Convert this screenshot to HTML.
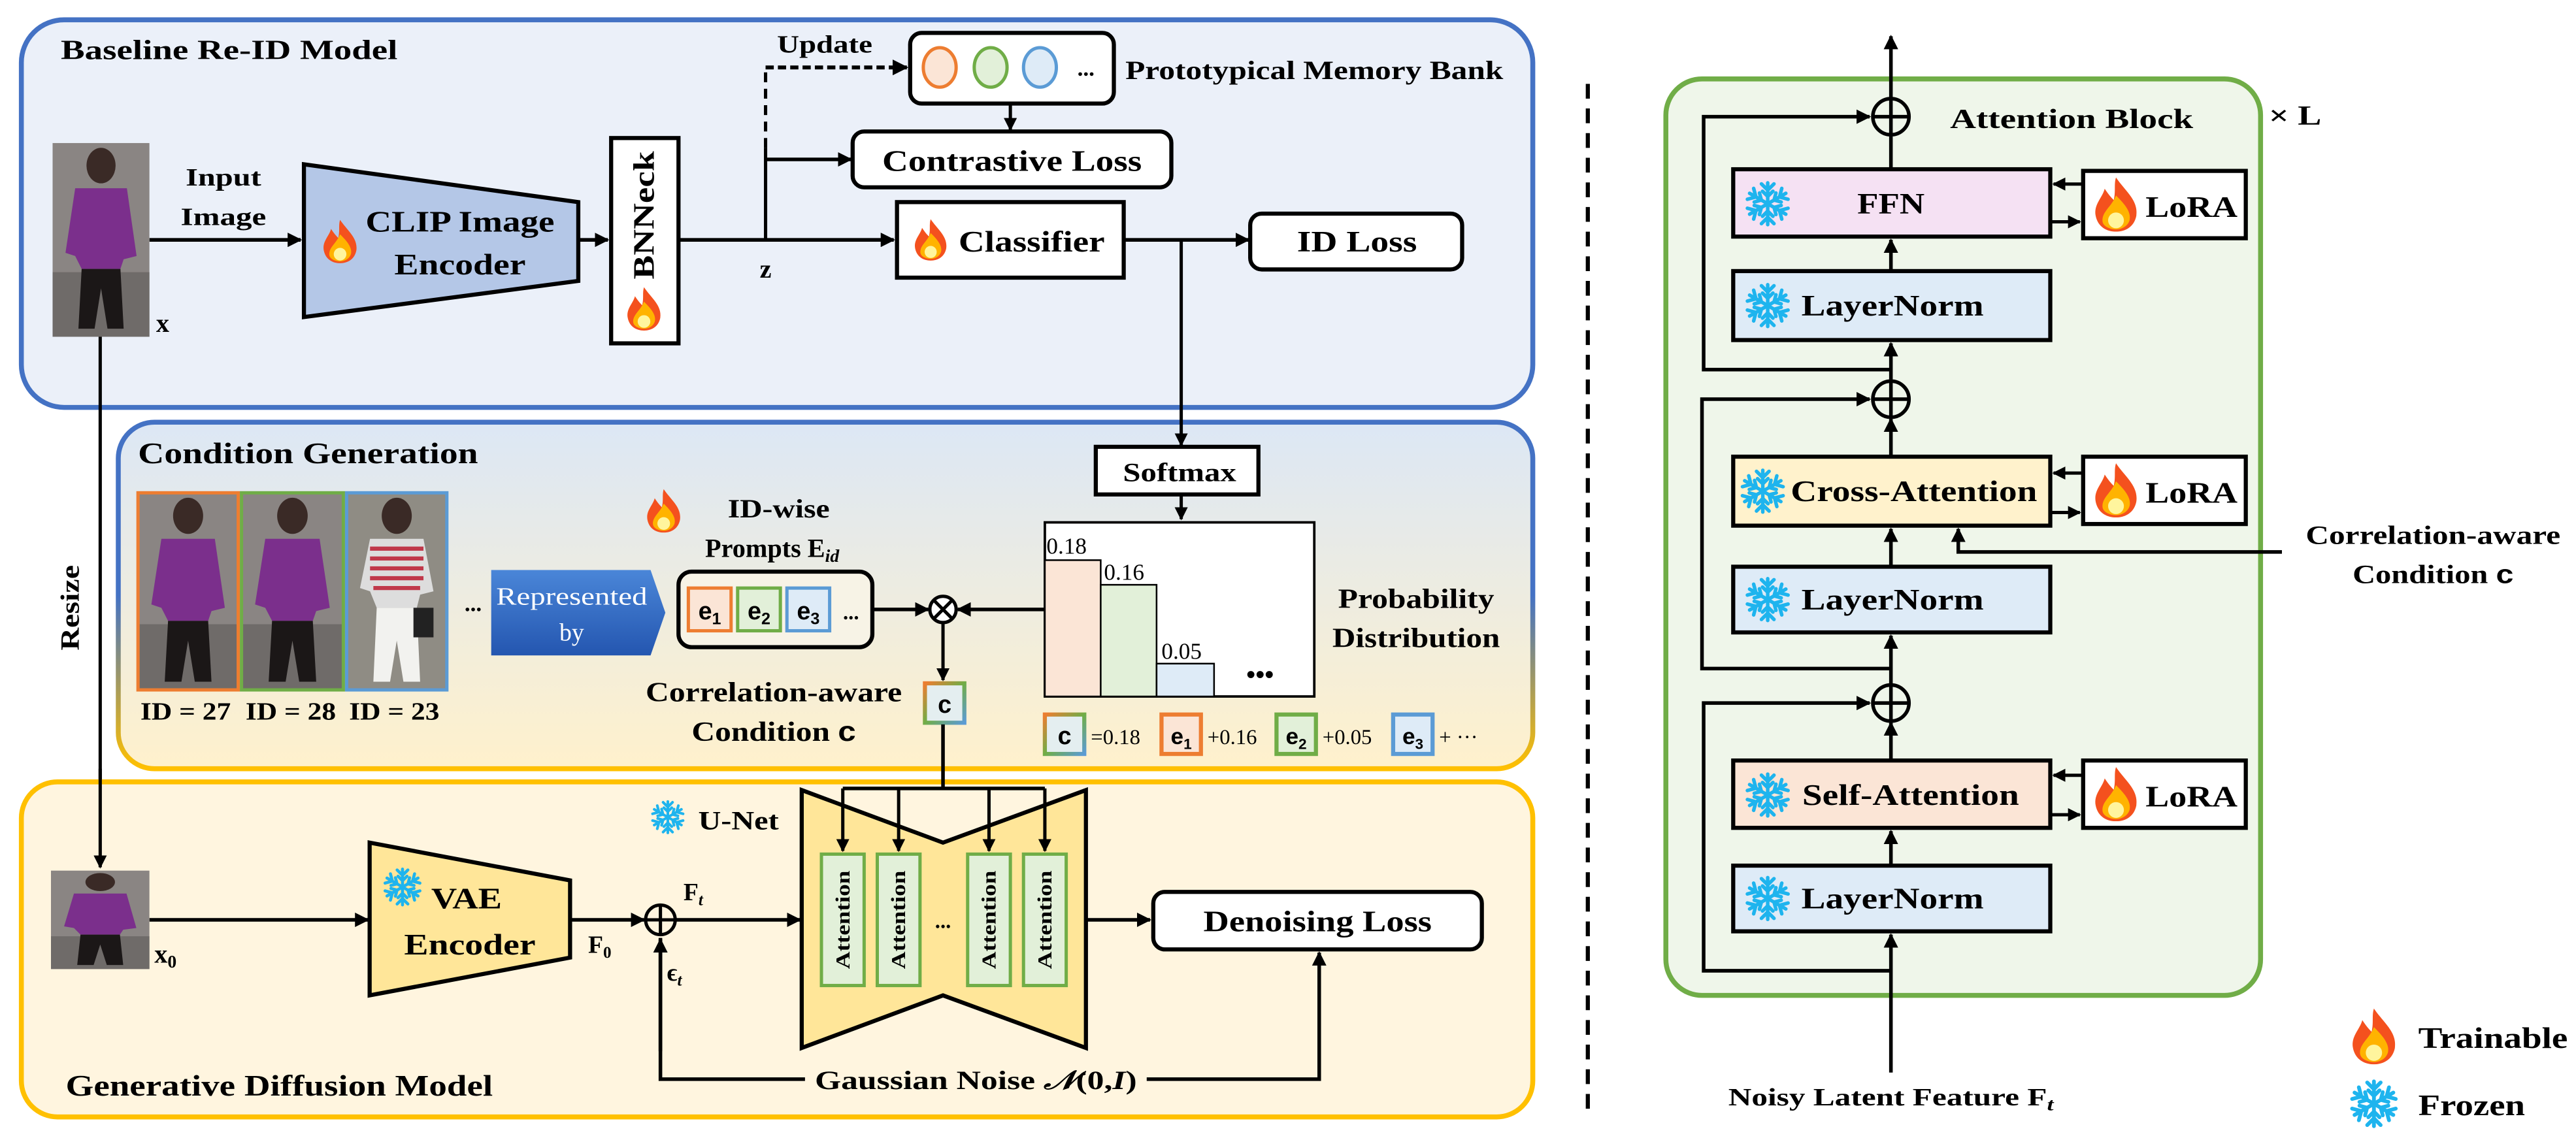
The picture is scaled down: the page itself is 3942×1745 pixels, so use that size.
<!DOCTYPE html>
<html><head><meta charset="utf-8"><style>
html,body{margin:0;padding:0;background:#fff}
svg{display:block}
text{font-family:"Liberation Serif","DejaVu Serif",serif;font-weight:bold;fill:#000}
</style></head><body>
<svg width="3942" height="1745" viewBox="0 0 1568 694" xmlns="http://www.w3.org/2000/svg">
<defs>
<marker id="ah" viewBox="0 0 10 10" refX="9" refY="5" markerWidth="4" markerHeight="4" orient="auto-start-reverse" markerUnits="strokeWidth"><path d="M0,0 L10,5 L0,10 z" fill="#000"/></marker>
<symbol id="fire" viewBox="-10 -12 20 24">
<path d="M0,-12 C4,-6 10,-2 9,5 C8,10 4,12 0,12 C-4,12 -8,10 -9,5 C-10,0 -6,-3 -5,-7 C-3,-4 -2,-3 -1,-2 C0,-6 -1,-9 0,-12Z" fill="#F4511E"/>
<path d="M0,-4 C3,-1 7,3 6,7 C5,10 2,11 0,11 C-2,11 -6,10 -6,7 C-6,3 -2,1 0,-4Z" fill="#FFB300"/>
<ellipse cx="0" cy="7" rx="3.5" ry="3.5" fill="#FFF59D"/>
</symbol>
<g id="arm"><path d="M0,0 L0,-10 M0,-6.5 L-3,-9.5 M0,-6.5 L3,-9.5 M0,-3.5 L-2.5,-6 M0,-3.5 L2.5,-6"/></g>
<symbol id="snow" viewBox="-11 -11 22 22">
<g stroke="#1EB4EE" stroke-width="1.7" stroke-linecap="round" fill="none">
<use href="#arm"/><use href="#arm" transform="rotate(60)"/><use href="#arm" transform="rotate(120)"/>
<use href="#arm" transform="rotate(180)"/><use href="#arm" transform="rotate(240)"/><use href="#arm" transform="rotate(300)"/>
</g>
</symbol>
<linearGradient id="cgS" x1="0" y1="0" x2="0" y2="1"><stop offset="0" stop-color="#4472C4"/><stop offset="0.5" stop-color="#4472C4"/><stop offset="1" stop-color="#FFC000"/></linearGradient>
<linearGradient id="cgF" x1="0" y1="0" x2="0" y2="1"><stop offset="0" stop-color="#DCE7F5"/><stop offset="1" stop-color="#FFF1CC"/></linearGradient>
<linearGradient id="repG" x1="0" y1="0" x2="0" y2="1"><stop offset="0" stop-color="#4A86D8"/><stop offset="1" stop-color="#2456B0"/></linearGradient>
<linearGradient id="cbox" x1="0" y1="0" x2="1" y2="1"><stop offset="0" stop-color="#ED7D31"/><stop offset="0.5" stop-color="#70AD47"/><stop offset="1" stop-color="#5B9BD5"/></linearGradient>
<symbol id="person" viewBox="0 0 60 120" preserveAspectRatio="none">
<rect width="60" height="120" fill="#8a8583"/>
<rect x="0" y="80" width="60" height="40" fill="#6f6b69"/>
<ellipse cx="30" cy="14" rx="9" ry="11" fill="#3a2a26"/>
<path d="M14,28 L46,28 L52,70 L44,72 L42,78 L18,78 L14,70 L8,68Z" fill="#7b2f8c"/>
<path d="M18,78 L42,78 L44,115 L34,115 L30,90 L26,115 L16,115Z" fill="#1b1717"/>
</symbol>
<symbol id="person2" viewBox="0 0 60 120" preserveAspectRatio="none">
<rect width="60" height="120" fill="#8f8c84"/>
<ellipse cx="30" cy="14" rx="9" ry="11" fill="#3a2a26"/>
<path d="M14,28 L46,28 L52,60 L44,62 L42,70 L18,70 L14,60 L8,58Z" fill="#ddd" />
<path d="M14,34 L46,34 M14,40 L46,40 M14,46 L46,46 M14,52 L46,52 M16,58 L44,58" stroke="#c0384a" stroke-width="2.5"/>
<path d="M18,70 L42,70 L44,115 L34,115 L30,90 L26,115 L16,115Z" fill="#f2f2ef"/>
<rect x="40" y="70" width="12" height="18" fill="#222"/>
</symbol>
</defs>

<!-- ===== Box 1: Baseline ===== -->
<rect x="13" y="12" width="920" height="236" rx="26" fill="#EBF0F9" stroke="#4472C4" stroke-width="3"/>
<text x="37" y="36" font-size="17" textLength="205" lengthAdjust="spacingAndGlyphs">Baseline Re-ID Model</text>
<use href="#person" x="32" y="87" width="59" height="118"/>
<text x="95" y="202" font-size="16">x</text>
<text x="136" y="113" font-size="15" text-anchor="middle" textLength="46" lengthAdjust="spacingAndGlyphs">Input</text>
<text x="136" y="137" font-size="15" text-anchor="middle" textLength="52" lengthAdjust="spacingAndGlyphs">Image</text>
<line x1="91" y1="146" x2="183" y2="146" stroke="#000" stroke-width="2.2" marker-end="url(#ah)"/>
<polygon points="185,100 352,123 352,171 185,193" fill="#B4C7E7" stroke="#000" stroke-width="2.5"/>
<use href="#fire" x="196" y="133" width="22" height="28"/>
<text x="280" y="141" font-size="18" text-anchor="middle" textLength="115" lengthAdjust="spacingAndGlyphs">CLIP Image</text>
<text x="280" y="167" font-size="18" text-anchor="middle" textLength="80" lengthAdjust="spacingAndGlyphs">Encoder</text>
<line x1="352" y1="146" x2="370" y2="146" stroke="#000" stroke-width="2.2" marker-end="url(#ah)"/>
<rect x="372" y="84" width="41" height="125" fill="#fff" stroke="#000" stroke-width="2.5"/>
<text transform="translate(398,131) rotate(-90)" font-size="18" text-anchor="middle" textLength="78" lengthAdjust="spacingAndGlyphs">BNNeck</text>
<use href="#fire" x="381" y="174" width="22" height="28"/>
<line x1="413" y1="146" x2="544" y2="146" stroke="#000" stroke-width="2.2" marker-end="url(#ah)"/>
<text x="466" y="169" font-size="16" text-anchor="middle">z</text>
<line x1="466" y1="146" x2="466" y2="90" stroke="#000" stroke-width="2"/>
<line x1="466" y1="90" x2="466" y2="42" stroke="#000" stroke-width="2" stroke-dasharray="6,4"/>
<line x1="466" y1="41" x2="552" y2="41" stroke="#000" stroke-width="2.4" stroke-dasharray="5,2.5" marker-end="url(#ah)"/>
<text x="502" y="32" font-size="15" text-anchor="middle" textLength="58" lengthAdjust="spacingAndGlyphs">Update</text>
<rect x="554" y="20" width="124" height="43" rx="7" fill="#fff" stroke="#000" stroke-width="2.5"/>
<ellipse cx="572" cy="41" rx="10" ry="12" fill="#FBE5D6" stroke="#ED7D31" stroke-width="2"/>
<ellipse cx="603" cy="41" rx="10" ry="12" fill="#E2F0D9" stroke="#70AD47" stroke-width="2"/>
<ellipse cx="633" cy="41" rx="10" ry="12" fill="#DEEBF7" stroke="#5B9BD5" stroke-width="2"/>
<text x="661" y="46" font-size="14" text-anchor="middle">...</text>
<text x="685" y="48" font-size="16" textLength="230" lengthAdjust="spacingAndGlyphs">Prototypical Memory Bank</text>
<line x1="615" y1="63" x2="615" y2="79" stroke="#000" stroke-width="2" marker-end="url(#ah)"/>
<line x1="466" y1="97" x2="518" y2="97" stroke="#000" stroke-width="2.2" marker-end="url(#ah)"/>
<rect x="519" y="80" width="194" height="34" rx="7" fill="#fff" stroke="#000" stroke-width="2.5"/>
<text x="616" y="104" font-size="18" text-anchor="middle" textLength="158" lengthAdjust="spacingAndGlyphs">Contrastive Loss</text>
<rect x="546" y="123" width="138" height="46" fill="#fff" stroke="#000" stroke-width="2.5"/>
<use href="#fire" x="556" y="132" width="21" height="28"/>
<text x="628" y="153" font-size="18" text-anchor="middle" textLength="89" lengthAdjust="spacingAndGlyphs">Classifier</text>
<line x1="684" y1="146" x2="760" y2="146" stroke="#000" stroke-width="2.2" marker-end="url(#ah)"/>
<rect x="761" y="130" width="129" height="34" rx="7" fill="#fff" stroke="#000" stroke-width="2.5"/>
<text x="826" y="153" font-size="18" text-anchor="middle" textLength="73" lengthAdjust="spacingAndGlyphs">ID Loss</text>

<!-- ===== Box 2: Condition Generation ===== -->
<rect x="72" y="257" width="861" height="211" rx="22" fill="url(#cgF)" stroke="url(#cgS)" stroke-width="3"/>
<line x1="719" y1="146" x2="719" y2="271" stroke="#000" stroke-width="2" marker-end="url(#ah)"/>
<line x1="61" y1="205" x2="61" y2="528" stroke="#000" stroke-width="2" marker-end="url(#ah)"/>
<text transform="translate(48,370) rotate(-90)" font-size="16" text-anchor="middle" textLength="52" lengthAdjust="spacingAndGlyphs">Resize</text>
<text x="84" y="282" font-size="18" textLength="207" lengthAdjust="spacingAndGlyphs">Condition Generation</text>
<use href="#person" x="84" y="300" width="61" height="120"/>
<rect x="84" y="300" width="61" height="120" fill="none" stroke="#ED7D31" stroke-width="2"/>
<use href="#person" x="147" y="300" width="62" height="120"/>
<rect x="147" y="300" width="62" height="120" fill="none" stroke="#70AD47" stroke-width="2"/>
<use href="#person2" x="211" y="300" width="61" height="120"/>
<rect x="211" y="300" width="61" height="120" fill="none" stroke="#5B9BD5" stroke-width="2"/>
<text x="113" y="438" font-size="15" text-anchor="middle" textLength="55" lengthAdjust="spacingAndGlyphs">ID = 27</text>
<text x="177" y="438" font-size="15" text-anchor="middle" textLength="55" lengthAdjust="spacingAndGlyphs">ID = 28</text>
<text x="240" y="438" font-size="15" text-anchor="middle" textLength="55" lengthAdjust="spacingAndGlyphs">ID = 23</text>
<text x="288" y="372" font-size="14" text-anchor="middle">...</text>
<polygon points="299,347 396,347 405,373 396,399 299,399" fill="url(#repG)"/>
<text x="348" y="368" font-size="15" text-anchor="middle" textLength="92" lengthAdjust="spacingAndGlyphs" style="fill:#fff;font-weight:normal">Represented</text>
<text x="348" y="390" font-size="15" text-anchor="middle" style="fill:#fff;font-weight:normal">by</text>
<use href="#fire" x="393" y="296" width="22" height="30"/>
<text x="474" y="315" font-size="16" text-anchor="middle" textLength="62" lengthAdjust="spacingAndGlyphs">ID-wise</text>
<text x="470" y="339" font-size="16" text-anchor="middle">Prompts E<tspan font-size="11" font-style="italic" dy="3">id</tspan></text>
<rect x="413" y="348" width="118" height="46" rx="8" fill="#F7F3E6" stroke="#000" stroke-width="2.5"/>
<rect x="419" y="358" width="26" height="26" fill="#FBE5D6" stroke="#ED7D31" stroke-width="2"/>
<rect x="449" y="358" width="26" height="26" fill="#E2F0D9" stroke="#70AD47" stroke-width="2"/>
<rect x="479" y="358" width="26" height="26" fill="#DEEBF7" stroke="#5B9BD5" stroke-width="2"/>
<text x="432" y="377" font-size="15" text-anchor="middle" style="font-family:'Liberation Sans',sans-serif">e<tspan font-size="10" dy="3">1</tspan></text>
<text x="462" y="377" font-size="15" text-anchor="middle" style="font-family:'Liberation Sans',sans-serif">e<tspan font-size="10" dy="3">2</tspan></text>
<text x="492" y="377" font-size="15" text-anchor="middle" style="font-family:'Liberation Sans',sans-serif">e<tspan font-size="10" dy="3">3</tspan></text>
<text x="518" y="377" font-size="13" text-anchor="middle">...</text>
<line x1="531" y1="371" x2="565" y2="371" stroke="#000" stroke-width="2.2" marker-end="url(#ah)"/>
<circle cx="574" cy="371" r="8" fill="#fff" stroke="#000" stroke-width="2"/>
<line x1="568.5" y1="365.5" x2="579.5" y2="376.5" stroke="#000" stroke-width="2"/>
<line x1="579.5" y1="365.5" x2="568.5" y2="376.5" stroke="#000" stroke-width="2"/>
<line x1="636" y1="371" x2="583" y2="371" stroke="#000" stroke-width="2.2" marker-end="url(#ah)"/>
<line x1="574" y1="379" x2="574" y2="414" stroke="#000" stroke-width="2" marker-end="url(#ah)"/>
<rect x="563" y="416" width="24" height="24" fill="#E4EEF0" stroke="url(#cbox)" stroke-width="2.5"/>
<text x="575" y="434" font-size="15" text-anchor="middle" style="font-family:'Liberation Sans',sans-serif">c</text>
<text x="471" y="427" font-size="17" text-anchor="middle" textLength="156" lengthAdjust="spacingAndGlyphs">Correlation-aware</text>
<text x="471" y="451" font-size="17" text-anchor="middle" textLength="100" lengthAdjust="spacingAndGlyphs">Condition <tspan style="font-family:'Liberation Sans',sans-serif">c</tspan></text>
<line x1="719" y1="301" x2="719" y2="316" stroke="#000" stroke-width="2" marker-end="url(#ah)"/>
<rect x="667" y="272" width="99" height="29" fill="#fff" stroke="#000" stroke-width="2.5"/>
<text x="718" y="293" font-size="16" text-anchor="middle" textLength="69" lengthAdjust="spacingAndGlyphs">Softmax</text>
<rect x="636" y="318" width="164" height="106" fill="#fff" stroke="#000" stroke-width="1.5"/>
<rect x="636" y="341" width="34" height="83" fill="#FBE5D6" stroke="#000" stroke-width="1"/>
<rect x="670" y="356" width="34" height="68" fill="#E2F0D9" stroke="#000" stroke-width="1"/>
<rect x="704" y="404" width="35" height="20" fill="#DEEBF7" stroke="#000" stroke-width="1"/>
<text x="637" y="337" font-size="14" style="font-weight:normal">0.18</text>
<text x="672" y="353" font-size="14" style="font-weight:normal">0.16</text>
<text x="707" y="401" font-size="14" style="font-weight:normal">0.05</text>
<text x="767" y="416" font-size="16" text-anchor="middle">•••</text>
<text x="862" y="370" font-size="17" text-anchor="middle" textLength="95" lengthAdjust="spacingAndGlyphs">Probability</text>
<text x="862" y="394" font-size="17" text-anchor="middle" textLength="102" lengthAdjust="spacingAndGlyphs">Distribution</text>
<!-- equation -->
<rect x="636" y="435" width="24" height="24" fill="#E4EEF0" stroke="url(#cbox)" stroke-width="2.5"/>
<text x="648" y="453" font-size="15" text-anchor="middle" style="font-family:'Liberation Sans',sans-serif">c</text>
<text x="664" y="453" font-size="13" style="font-weight:normal">=0.18</text>
<rect x="707" y="435" width="24" height="24" fill="#FBE5D6" stroke="#ED7D31" stroke-width="2.5"/>
<text x="719" y="453" font-size="14" text-anchor="middle" style="font-family:'Liberation Sans',sans-serif">e<tspan font-size="9" dy="3">1</tspan></text>
<text x="735" y="453" font-size="13" style="font-weight:normal">+0.16</text>
<rect x="777" y="435" width="24" height="24" fill="#E2F0D9" stroke="#70AD47" stroke-width="2.5"/>
<text x="789" y="453" font-size="14" text-anchor="middle" style="font-family:'Liberation Sans',sans-serif">e<tspan font-size="9" dy="3">2</tspan></text>
<text x="805" y="453" font-size="13" style="font-weight:normal">+0.05</text>
<rect x="848" y="435" width="24" height="24" fill="#DEEBF7" stroke="#5B9BD5" stroke-width="2.5"/>
<text x="860" y="453" font-size="14" text-anchor="middle" style="font-family:'Liberation Sans',sans-serif">e<tspan font-size="9" dy="3">3</tspan></text>
<text x="876" y="453" font-size="13" style="font-weight:normal">+ ···</text>

<!-- ===== Box 3: Diffusion ===== -->
<rect x="13" y="476" width="920" height="204" rx="22" fill="#FFF5DF" stroke="#FFC000" stroke-width="3"/>
<line x1="61" y1="468" x2="61" y2="528" stroke="#000" stroke-width="2" marker-end="url(#ah)"/>
<use href="#person" x="31" y="530" width="60" height="60"/>
<text x="94" y="586" font-size="16">x<tspan font-size="11" dy="3">0</tspan></text>
<line x1="91" y1="560" x2="224" y2="560" stroke="#000" stroke-width="2.2" marker-end="url(#ah)"/>
<polygon points="225,513 347,536 347,583 225,606" fill="#FFE699" stroke="#000" stroke-width="2.5"/>
<use href="#snow" x="233" y="528" width="24" height="24"/>
<text x="284" y="553" font-size="18" text-anchor="middle" textLength="43" lengthAdjust="spacingAndGlyphs">VAE</text>
<text x="286" y="581" font-size="18" text-anchor="middle" textLength="80" lengthAdjust="spacingAndGlyphs">Encoder</text>
<line x1="347" y1="560" x2="392" y2="560" stroke="#000" stroke-width="2.2" marker-end="url(#ah)"/>
<text x="358" y="580" font-size="15">F<tspan font-size="10" dy="3">0</tspan></text>
<circle cx="402" cy="560" r="9" fill="none" stroke="#000" stroke-width="2"/>
<line x1="393" y1="560" x2="411" y2="560" stroke="#000" stroke-width="2"/>
<line x1="402" y1="551" x2="402" y2="569" stroke="#000" stroke-width="2"/>
<text x="416" y="548" font-size="15">F<tspan font-size="10" font-style="italic" dy="3">t</tspan></text>
<text x="406" y="597" font-size="15">ϵ<tspan font-size="10" font-style="italic" dy="3">t</tspan></text>
<line x1="411" y1="560" x2="487" y2="560" stroke="#000" stroke-width="2.2" marker-end="url(#ah)"/>
<polyline points="402,571 402,657 490,657" fill="none" stroke="#000" stroke-width="2.2"/>
<line x1="402" y1="640" x2="402" y2="572" stroke="#000" stroke-width="2.2" marker-end="url(#ah)"/>
<text x="594" y="663" font-size="16" text-anchor="middle" textLength="196" lengthAdjust="spacingAndGlyphs">Gaussian Noise <tspan font-style="italic">𝒩</tspan>(0,<tspan font-style="italic">I</tspan>)</text>
<polyline points="698,657 803,657 803,580" fill="none" stroke="#000" stroke-width="2.2" marker-end="url(#ah)"/>
<polygon points="488,481 574,513 661,481 661,638 574,606 488,638" fill="#FFE699" stroke="#000" stroke-width="2.5"/>
<use href="#snow" x="396" y="487" width="21" height="21"/>
<text x="425" y="505" font-size="16" textLength="49" lengthAdjust="spacingAndGlyphs">U-Net</text>
<polyline points="574,441 574,480" fill="none" stroke="#000" stroke-width="2.2"/>
<line x1="513" y1="480" x2="636" y2="480" stroke="#000" stroke-width="2.2"/>
<line x1="513" y1="480" x2="513" y2="518" stroke="#000" stroke-width="2" marker-end="url(#ah)"/>
<line x1="547" y1="480" x2="547" y2="518" stroke="#000" stroke-width="2" marker-end="url(#ah)"/>
<line x1="602" y1="480" x2="602" y2="518" stroke="#000" stroke-width="2" marker-end="url(#ah)"/>
<line x1="636" y1="480" x2="636" y2="518" stroke="#000" stroke-width="2" marker-end="url(#ah)"/>
<rect x="500" y="520" width="26" height="80" fill="#E2F0D9" stroke="#70AD47" stroke-width="2"/>
<rect x="534" y="520" width="26" height="80" fill="#E2F0D9" stroke="#70AD47" stroke-width="2"/>
<rect x="589" y="520" width="26" height="80" fill="#E2F0D9" stroke="#70AD47" stroke-width="2"/>
<rect x="623" y="520" width="26" height="80" fill="#E2F0D9" stroke="#70AD47" stroke-width="2"/>
<text transform="translate(517,560) rotate(-90)" font-size="12" text-anchor="middle" textLength="60" lengthAdjust="spacingAndGlyphs">Attention</text>
<text transform="translate(551,560) rotate(-90)" font-size="12" text-anchor="middle" textLength="60" lengthAdjust="spacingAndGlyphs">Attention</text>
<text transform="translate(606,560) rotate(-90)" font-size="12" text-anchor="middle" textLength="60" lengthAdjust="spacingAndGlyphs">Attention</text>
<text transform="translate(640,560) rotate(-90)" font-size="12" text-anchor="middle" textLength="60" lengthAdjust="spacingAndGlyphs">Attention</text>
<text x="574" y="565" font-size="13" text-anchor="middle">...</text>
<line x1="661" y1="560" x2="700" y2="560" stroke="#000" stroke-width="2.2" marker-end="url(#ah)"/>
<rect x="702" y="543" width="200" height="35" rx="7" fill="#fff" stroke="#000" stroke-width="2.5"/>
<text x="802" y="567" font-size="18" text-anchor="middle" textLength="139" lengthAdjust="spacingAndGlyphs">Denoising Loss</text>
<text x="40" y="667" font-size="18" textLength="260" lengthAdjust="spacingAndGlyphs">Generative Diffusion Model</text>

<!-- ===== Divider ===== -->
<line x1="966.5" y1="51" x2="966.5" y2="677" stroke="#000" stroke-width="2.5" stroke-dasharray="9,6"/>

<!-- ===== Right panel ===== -->
<rect x="1014" y="48" width="362" height="558" rx="22" fill="#EFF6EA" stroke="#70AD47" stroke-width="3"/>
<text x="1261" y="78" font-size="17" text-anchor="middle" textLength="148" lengthAdjust="spacingAndGlyphs">Attention Block</text>
<text x="1397" y="76" font-size="17" text-anchor="middle" textLength="32" lengthAdjust="spacingAndGlyphs">× L</text>
<line x1="1151" y1="653" x2="1151" y2="569" stroke="#000" stroke-width="2.2" marker-end="url(#ah)"/>
<line x1="1151" y1="527" x2="1151" y2="506" stroke="#000" stroke-width="2.2" marker-end="url(#ah)"/>
<line x1="1151" y1="463" x2="1151" y2="440" stroke="#000" stroke-width="2.2" marker-end="url(#ah)"/>
<line x1="1151" y1="416" x2="1151" y2="387" stroke="#000" stroke-width="2.2" marker-end="url(#ah)"/>
<line x1="1151" y1="345" x2="1151" y2="322" stroke="#000" stroke-width="2.2" marker-end="url(#ah)"/>
<line x1="1151" y1="278" x2="1151" y2="255" stroke="#000" stroke-width="2.2" marker-end="url(#ah)"/>
<line x1="1151" y1="231" x2="1151" y2="209" stroke="#000" stroke-width="2.2" marker-end="url(#ah)"/>
<line x1="1151" y1="165" x2="1151" y2="146" stroke="#000" stroke-width="2.2" marker-end="url(#ah)"/>
<line x1="1151" y1="103" x2="1151" y2="83" stroke="#000" stroke-width="2.2"/>
<line x1="1151" y1="60" x2="1151" y2="22" stroke="#000" stroke-width="2.2" marker-end="url(#ah)"/>
<polyline points="1151,591 1037,591 1037,428 1138,428" fill="none" stroke="#000" stroke-width="2.2" marker-end="url(#ah)"/>
<polyline points="1151,407 1036,407 1036,243 1138,243" fill="none" stroke="#000" stroke-width="2.2" marker-end="url(#ah)"/>
<polyline points="1151,225 1037,225 1037,71 1138,71" fill="none" stroke="#000" stroke-width="2.2" marker-end="url(#ah)"/>
<g fill="#EFF6EA" stroke="#000" stroke-width="2.2">
<circle cx="1151" cy="71" r="11"/><circle cx="1151" cy="243" r="11"/><circle cx="1151" cy="428" r="11"/>
</g>
<g stroke="#000" stroke-width="2.2">
<line x1="1140" y1="71" x2="1162" y2="71"/><line x1="1151" y1="60" x2="1151" y2="82"/>
<line x1="1140" y1="243" x2="1162" y2="243"/><line x1="1151" y1="232" x2="1151" y2="254"/>
<line x1="1140" y1="428" x2="1162" y2="428"/><line x1="1151" y1="417" x2="1151" y2="439"/>
</g>
<rect x="1055" y="103" width="193" height="41" fill="#F5E1F3" stroke="#000" stroke-width="2.5"/>
<rect x="1055" y="165" width="193" height="42" fill="#DEEBF7" stroke="#000" stroke-width="2.5"/>
<rect x="1055" y="278" width="193" height="42" fill="#FFF2CC" stroke="#000" stroke-width="2.5"/>
<rect x="1055" y="345" width="193" height="40" fill="#DEEBF7" stroke="#000" stroke-width="2.5"/>
<rect x="1055" y="463" width="193" height="41" fill="#FBE5D6" stroke="#000" stroke-width="2.5"/>
<rect x="1055" y="527" width="193" height="40" fill="#DEEBF7" stroke="#000" stroke-width="2.5"/>
<use href="#snow" x="1062" y="110" width="28" height="28"/>
<use href="#snow" x="1062" y="172" width="28" height="28"/>
<use href="#snow" x="1059" y="285" width="28" height="28"/>
<use href="#snow" x="1062" y="351" width="28" height="28"/>
<use href="#snow" x="1062" y="470" width="28" height="28"/>
<use href="#snow" x="1062" y="533" width="28" height="28"/>
<text x="1151" y="130" font-size="18" text-anchor="middle" textLength="41" lengthAdjust="spacingAndGlyphs">FFN</text>
<text x="1152" y="192" font-size="18" text-anchor="middle" textLength="111" lengthAdjust="spacingAndGlyphs">LayerNorm</text>
<text x="1165" y="305" font-size="18" text-anchor="middle" textLength="150" lengthAdjust="spacingAndGlyphs">Cross-Attention</text>
<text x="1152" y="371" font-size="18" text-anchor="middle" textLength="111" lengthAdjust="spacingAndGlyphs">LayerNorm</text>
<text x="1163" y="490" font-size="18" text-anchor="middle" textLength="132" lengthAdjust="spacingAndGlyphs">Self-Attention</text>
<text x="1152" y="553" font-size="18" text-anchor="middle" textLength="111" lengthAdjust="spacingAndGlyphs">LayerNorm</text>
<rect x="1268" y="104" width="99" height="41" fill="#fff" stroke="#000" stroke-width="2.5"/>
<rect x="1268" y="278" width="99" height="41" fill="#fff" stroke="#000" stroke-width="2.5"/>
<rect x="1268" y="463" width="99" height="41" fill="#fff" stroke="#000" stroke-width="2.5"/>
<use href="#fire" x="1274" y="108" width="28" height="33"/>
<use href="#fire" x="1274" y="282" width="28" height="33"/>
<use href="#fire" x="1274" y="467" width="28" height="33"/>
<text x="1334" y="132" font-size="18" text-anchor="middle" textLength="56" lengthAdjust="spacingAndGlyphs">LoRA</text>
<text x="1334" y="306" font-size="18" text-anchor="middle" textLength="56" lengthAdjust="spacingAndGlyphs">LoRA</text>
<text x="1334" y="491" font-size="18" text-anchor="middle" textLength="56" lengthAdjust="spacingAndGlyphs">LoRA</text>
<g stroke="#000" stroke-width="2">
<line x1="1268" y1="112" x2="1250" y2="112" marker-end="url(#ah)"/>
<line x1="1248" y1="135" x2="1266" y2="135" marker-end="url(#ah)"/>
<line x1="1268" y1="288" x2="1250" y2="288" marker-end="url(#ah)"/>
<line x1="1248" y1="312" x2="1266" y2="312" marker-end="url(#ah)"/>
<line x1="1268" y1="472" x2="1250" y2="472" marker-end="url(#ah)"/>
<line x1="1248" y1="496" x2="1266" y2="496" marker-end="url(#ah)"/>
</g>
<polyline points="1389,336 1192,336 1192,322" fill="none" stroke="#000" stroke-width="2.2" marker-end="url(#ah)"/>
<text x="1481" y="331" font-size="16" text-anchor="middle" textLength="155" lengthAdjust="spacingAndGlyphs">Correlation-aware</text>
<text x="1481" y="355" font-size="16" text-anchor="middle" textLength="98" lengthAdjust="spacingAndGlyphs">Condition <tspan style="font-family:'Liberation Sans',sans-serif">c</tspan></text>
<text x="1151" y="673" font-size="15" text-anchor="middle" textLength="198" lengthAdjust="spacingAndGlyphs">Noisy Latent Feature F<tspan font-style="italic" font-size="11" dy="3">t</tspan></text>
<use href="#fire" x="1430" y="614" width="30" height="34"/>
<text x="1472" y="638" font-size="18" textLength="91" lengthAdjust="spacingAndGlyphs">Trainable</text>
<use href="#snow" x="1430" y="657" width="30" height="30"/>
<text x="1472" y="679" font-size="18" textLength="65" lengthAdjust="spacingAndGlyphs">Frozen</text>
</svg>
</body></html>
